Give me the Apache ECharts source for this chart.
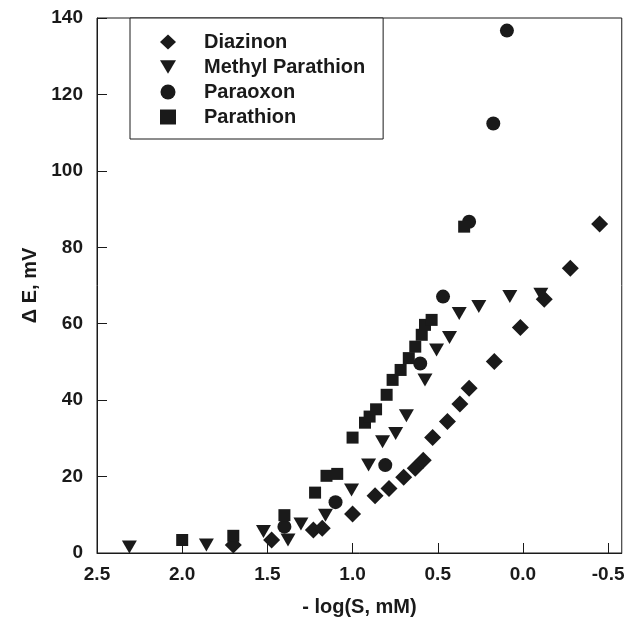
<!DOCTYPE html>
<html>
<head>
<meta charset="utf-8">
<script src="https://cdn.jsdelivr.net/npm/echarts@6/dist/echarts.min.js"></script>
<style>
  html, body { margin: 0; padding: 0; background: #fff; }
  #chart { width: 641px; height: 628px; }
</style>
</head>
<body>
<div id="chart"></div>
<script>
// ---- Data (x = -log(S, mM), y = ΔE in mV) ----
const seriesNames = ['Diazinon', 'Methyl Parathion', 'Paraoxon', 'Parathion'];

const diazinon = [
  [1.70, 2.1], [1.475, 3.4], [1.23, 6.0], [1.178, 6.5], [1.00, 10.2],
  [0.868, 15.0], [0.786, 16.9], [0.70, 19.8], [0.632, 22.2], [0.585, 24.3],
  [0.53, 30.2], [0.443, 34.4], [0.37, 39.0], [0.316, 43.1], [0.168, 50.1],
  [0.015, 59.0], [-0.125, 66.4], [-0.278, 74.5], [-0.45, 86.1]
];

const methylParathion = [
  [2.31, 1.6], [1.858, 2.1], [1.523, 5.6], [1.379, 3.4], [1.303, 7.6],
  [1.159, 9.9], [1.006, 16.5], [0.906, 23.0], [0.824, 29.1], [0.747, 31.3],
  [0.684, 35.9], [0.575, 45.3], [0.507, 53.1], [0.431, 56.4], [0.374, 62.7],
  [0.259, 64.5], [0.077, 67.1], [-0.105, 67.7]
];

const paraoxon = [
  [1.40, 6.9], [1.10, 13.3], [0.808, 23.0], [0.603, 49.6], [0.469, 67.1],
  [0.316, 86.7], [0.174, 112.4], [0.094, 136.7]
];

const parathion = [
  [2.00, 3.4], [1.70, 4.5], [1.40, 9.9], [1.22, 15.8], [1.153, 20.2],
  [1.09, 20.7], [1.00, 30.2], [0.927, 34.1], [0.90, 35.7], [0.862, 37.6],
  [0.80, 41.4], [0.765, 45.3], [0.718, 47.9], [0.67, 51.0], [0.632, 54.0],
  [0.594, 57.1], [0.575, 59.7], [0.536, 61.0], [0.345, 85.4]
];

const xTickValues = [2.5, 2.0, 1.5, 1.0, 0.5, 0.0, -0.5];

const axisTitleX = '- log(S, mM)';
const axisTitleY = '\u0394 E, mV';

// ---- Chart ----
const ink = '#1a1a1a';
const font = "'Liberation Sans', Arial, Helvetica, sans-serif";
const downTriangle = 'path://M0,0L14,0L7,12Z';
const chart = echarts.init(document.getElementById('chart'), null, { renderer: 'canvas' });

function scatter(name, data, symbol, size) {
  return {
    name: name,
    type: 'scatter',
    data: data,
    symbol: symbol,
    symbolSize: size,
    itemStyle: { color: ink, opacity: 1 },
    emphasis: { disabled: true },
    animation: false
  };
}

chart.setOption({
  animation: false,
  backgroundColor: '#fff',
  grid: {
    left: 97, right: 5, top: 18, bottom: 75,
    show: true, borderColor: ink, borderWidth: 1, backgroundColor: 'transparent'
  },
  legend: {
    orient: 'vertical',
    left: 130, top: 18,
    backgroundColor: '#fff',
    borderColor: ink, borderWidth: 1, borderRadius: 0,
    padding: [14, 18, 12, 30],
    itemWidth: 16, itemHeight: 15, itemGap: 5,
    selectedMode: false,
    data: [
      { name: seriesNames[0], icon: 'diamond' },
      { name: seriesNames[1], icon: downTriangle },
      { name: seriesNames[2], icon: 'circle' },
      { name: seriesNames[3], icon: 'rect' }
    ],
    textStyle: {
      fontFamily: font, fontWeight: 'bold', fontSize: 20, color: ink, lineHeight: 20,
      padding: [0, 0, 0, 23]
    }
  },
  xAxis: {
    type: 'value',
    inverse: true,
    min: -0.58, max: 2.5,
    name: axisTitleX,
    nameLocation: 'middle',
    nameGap: 44,
    nameTextStyle: { fontFamily: font, fontWeight: 'bold', fontSize: 20, color: ink },
    splitLine: { show: false },
    axisLine: { show: true, onZero: false, lineStyle: { color: ink, width: 1 } },
    axisTick: { show: true, inside: true, length: 10, customValues: xTickValues, lineStyle: { color: ink } },
    axisLabel: {
      customValues: xTickValues,
      margin: 12,
      fontFamily: font, fontWeight: 'bold', fontSize: 19, color: ink,
      formatter: v => v.toFixed(1)
    }
  },
  yAxis: {
    type: 'value',
    min: 0, max: 140, interval: 20,
    name: axisTitleY,
    nameLocation: 'middle',
    nameGap: 57,
    nameRotate: 90,
    nameTextStyle: { fontFamily: font, fontWeight: 'bold', fontSize: 20, color: ink },
    splitLine: { show: false },
    axisLine: { show: true, onZero: false, lineStyle: { color: ink, width: 1 } },
    axisTick: { show: true, inside: true, length: 10, lineStyle: { color: ink } },
    axisLabel: {
      margin: 14,
      fontFamily: font, fontWeight: 'bold', fontSize: 19, color: ink
    }
  },
  series: [
    scatter(seriesNames[0], diazinon, 'diamond', 17),
    scatter(seriesNames[1], methylParathion, downTriangle, [15, 13]),
    scatter(seriesNames[2], paraoxon, 'circle', 14),
    scatter(seriesNames[3], parathion, 'rect', 12)
  ]
});
</script>
</body>
</html>
